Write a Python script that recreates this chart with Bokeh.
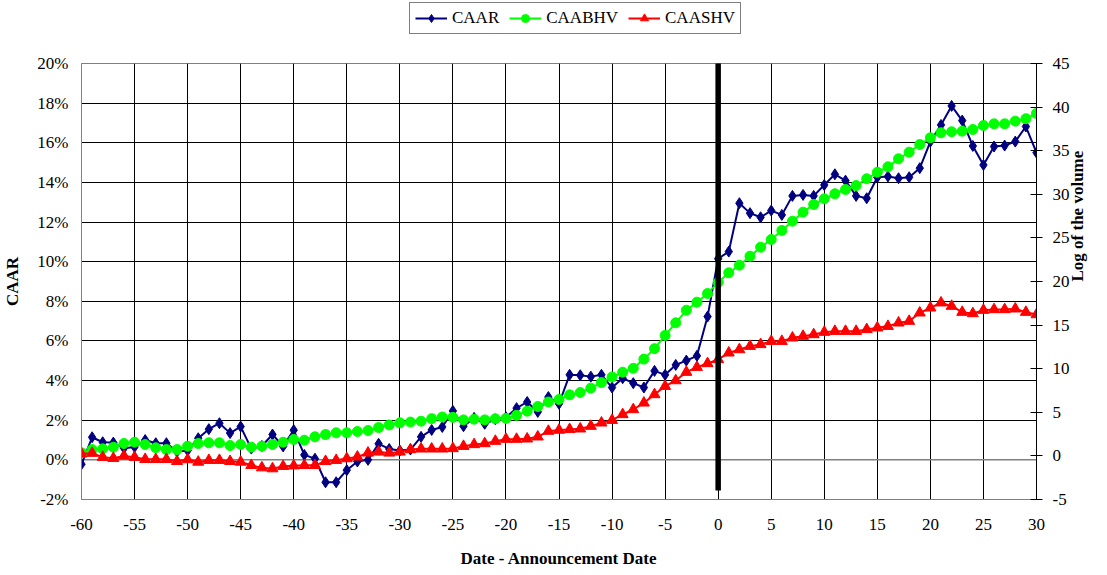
import math
from bokeh.plotting import figure
from bokeh.layouts import column
from bokeh.models import (Range1d, LinearAxis, FixedTicker, PrintfTickFormatter,
                          Legend, LegendItem, Span)
from bokeh.embed import file_html
from bokeh.resources import INLINE

dates = list(range(-60, 31))

caar = [-0.22, 1.14, 0.89, 0.87, 0.59, 0.65, 1.00, 0.84, 0.84, 0.42,
        0.47, 1.09, 1.55, 1.85, 1.35, 1.68, 0.57, 0.70, 1.28, 0.68,
        1.50, 0.25, 0.06, -1.13, -1.13, -0.52, -0.08, 0.00, 0.81, 0.55,
        0.47, 0.52, 1.16, 1.51, 1.66, 2.47, 1.70, 2.12, 1.82, 2.05,
        2.15, 2.61, 2.92, 2.42, 3.17, 2.83, 4.29, 4.27, 4.20, 4.29,
        3.65, 4.12, 3.87, 3.65, 4.49, 4.29, 4.79, 5.01, 5.25, 7.23,
        10.15, 10.51, 12.95, 12.45, 12.24, 12.58, 12.36, 13.32, 13.37, 13.32,
        13.87, 14.41, 14.09, 13.32, 13.20, 14.26, 14.30, 14.21, 14.26, 14.72,
        16.06, 16.90, 17.86, 17.12, 15.84, 14.88, 15.81, 15.86, 16.06, 16.82,
        15.50]

caabhv = [0.36, 0.73, 0.81, 1.00, 1.42, 1.57, 1.31, 0.93, 0.73, 0.73,
          1.11, 1.42, 1.50, 1.50, 1.19, 1.31, 1.00, 1.11, 1.31, 1.57,
          1.88, 1.80, 2.19, 2.45, 2.65, 2.65, 2.80, 2.91, 3.25, 3.55,
          3.79, 3.88, 3.98, 4.27, 4.46, 4.42, 4.13, 4.21, 4.13, 4.25,
          4.30, 4.65, 5.13, 5.66, 6.18, 6.47, 7.00, 7.27, 7.77, 8.41,
          9.05, 9.60, 10.05, 11.10, 12.30, 13.82, 15.26, 16.70, 17.63, 18.62,
          19.90, 21.00, 21.87, 22.90, 23.93, 24.82, 25.85, 26.92, 27.95, 28.83,
          29.48, 30.06, 30.55, 31.00, 31.78, 32.53, 33.15, 34.07, 34.83, 35.71,
          36.48, 37.05, 37.17, 37.24, 37.43, 37.89, 38.08, 38.08, 38.39, 38.67,
          39.27]

caashv = [0.24, 0.31, -0.15, -0.27, 0.00, -0.15, -0.39, -0.39, -0.39, -0.62,
          -0.42, -0.70, -0.50, -0.50, -0.62, -0.70, -1.08, -1.35, -1.46, -1.19,
          -1.13, -1.08, -1.08, -0.62, -0.50, -0.31, -0.12, 0.34, 0.46, 0.34,
          0.46, 0.73, 0.81, 0.81, 0.81, 0.85, 1.11, 1.31, 1.42, 1.69,
          1.92, 1.92, 1.96, 2.19, 2.84, 2.96, 3.04, 3.11, 3.41, 3.79,
          4.09, 4.75, 5.32, 6.08, 7.04, 7.99, 8.64, 9.60, 10.17, 10.60,
          11.06, 11.82, 12.20, 12.58, 12.78, 13.15, 13.15, 13.54, 13.73, 13.92,
          14.19, 14.30, 14.30, 14.30, 14.50, 14.69, 14.87, 15.26, 15.45, 16.41,
          16.98, 17.56, 17.17, 16.48, 16.33, 16.71, 16.79, 16.79, 16.87, 16.48,
          16.21]

x_ticks = list(range(-60, 31, 5))
y_ticks = list(range(-2, 21, 2))
vol_ticks = list(range(-5, 46, 5))
event_x = [0]
event_y = [-1.55, 20.5]
series_names = ["CAAR", "CAABHV", "CAASHV"]

FONT = "Liberation Serif"
NAVY = "#000080"
GREEN = "#00FF00"
RED = "#FF0000"
W = 1102

p = figure(width=W, height=531, x_range=Range1d(-60, 30), y_range=Range1d(-2, 20),
           output_backend="svg", toolbar_location=None,
           min_border_left=79, min_border_right=66, min_border_top=23, min_border_bottom=72)
p.extra_y_ranges = {"vol": Range1d(-5, 45)}
p.outline_line_color = "#808080"
p.background_fill_color = "white"
p.border_fill_color = "white"

# grids
p.xgrid.ticker = FixedTicker(ticks=x_ticks)
p.ygrid.ticker = FixedTicker(ticks=y_ticks)
for g in (p.xgrid, p.ygrid):
    g.grid_line_color = "black"
    g.grid_line_width = 1
    g.grid_line_alpha = 1.0

# x axis
xa = p.xaxis[0]
xa.ticker = FixedTicker(ticks=x_ticks)
xa.formatter = PrintfTickFormatter(format="%d")
xa.major_tick_in = 0
xa.major_tick_out = 0
xa.minor_tick_line_color = None
xa.axis_line_color = "#808080"
xa.major_label_standoff = 19
xa.major_label_text_font = FONT
xa.major_label_text_font_size = "17px"
xa.major_label_text_color = "black"
xa.axis_label = "Date - Announcement Date"
xa.axis_label_text_font = FONT
xa.axis_label_text_font_size = "17px"
xa.axis_label_text_font_style = "bold"
xa.axis_label_text_color = "black"
xa.axis_label_standoff = 16

# left axis
ya = p.yaxis[0]
ya.ticker = FixedTicker(ticks=y_ticks)
ya.formatter = PrintfTickFormatter(format="%d%%")
ya.major_tick_in = 0
ya.major_tick_out = 0
ya.minor_tick_line_color = None
ya.axis_line_color = "#808080"
ya.major_label_standoff = 13
ya.major_label_text_font = FONT
ya.major_label_text_font_size = "17px"
ya.major_label_text_color = "black"
ya.axis_label = "CAAR"
ya.axis_label_text_font = FONT
ya.axis_label_text_font_size = "17px"
ya.axis_label_text_font_style = "bold"
ya.axis_label_text_color = "black"
ya.axis_label_standoff = 12

# right axis
ra = LinearAxis(y_range_name="vol", ticker=FixedTicker(ticks=vol_ticks),
                formatter=PrintfTickFormatter(format="%d"))
ra.major_tick_in = 6
ra.major_tick_out = 6
ra.minor_tick_line_color = None
ra.axis_line_color = "black"
ra.major_tick_line_color = "black"
ra.major_label_standoff = 10
ra.major_label_text_font = FONT
ra.major_label_text_font_size = "17px"
ra.major_label_text_color = "black"
ra.axis_label = "Log of the volume"
ra.axis_label_text_font = FONT
ra.axis_label_text_font_size = "17px"
ra.axis_label_text_font_style = "bold"
ra.axis_label_text_color = "black"
ra.axis_label_standoff = 5
try:
    ra.axis_label_orientation = math.pi / 2
except Exception:
    pass
p.add_layout(ra, "right")

# zero line (gray)
p.add_layout(Span(location=0, dimension="width", line_color="#808080",
                  line_width=1.5, level="underlay"))

# series
p.line(dates, caar, line_color=NAVY, line_width=2)
p.scatter(dates, caar, marker="diamond", size=11, fill_color=NAVY, line_color=NAVY)
p.line(dates, caabhv, line_color=GREEN, line_width=2, y_range_name="vol")
p.scatter(dates, caabhv, marker="circle", size=10, fill_color=GREEN, line_color=GREEN,
          y_range_name="vol")
p.line(dates, caashv, line_color=RED, line_width=2, y_range_name="vol")
p.scatter(dates, caashv, marker="triangle", size=11, fill_color=RED, line_color=RED,
          y_range_name="vol")

# announcement line
p.segment(x0=[event_x[0]], y0=[event_y[0]], x1=[event_x[0]], y1=[event_y[1]],
          line_color="black", line_width=5.5)

# legend strip above the chart: its own small figure whose sample glyphs
# hold the first value of each series but lie outside its (0..1) ranges
leg = figure(width=W, height=40, x_range=Range1d(0, 1), y_range=Range1d(0, 1),
             output_backend="svg", toolbar_location=None, min_border=0)
leg.axis.visible = False
leg.grid.visible = False
leg.outline_line_color = None
leg.border_fill_color = "white"
items = []
for name, vals, col, mk, sz in zip(series_names, [caar, caabhv, caashv],
                                   [NAVY, GREEN, RED],
                                   ["diamond", "circle", "triangle"], [11, 10, 11]):
    lr = leg.line(x=dates[:2], y=vals[:2], line_color=col, line_width=2)
    sr = leg.scatter(x=dates[:1], y=vals[:1], marker=mk, size=sz, fill_color=col, line_color=col)
    items.append(LegendItem(label=name, renderers=[lr, sr]))
legend = Legend(items=items, orientation="horizontal", location=(328, 6))
legend.label_text_font = FONT
legend.label_text_font_size = "17px"
legend.label_text_color = "black"
legend.glyph_width = 32
legend.glyph_height = 20
legend.label_height = 20
legend.label_standoff = 5
legend.spacing = 10
legend.padding = 5
legend.margin = 0
legend.border_line_color = "black"
legend.border_line_width = 1
legend.background_fill_color = "white"
leg.add_layout(legend, "center")

layout = column(leg, p, spacing=0)
open("out.html", "w").write(file_html(layout, INLINE))
